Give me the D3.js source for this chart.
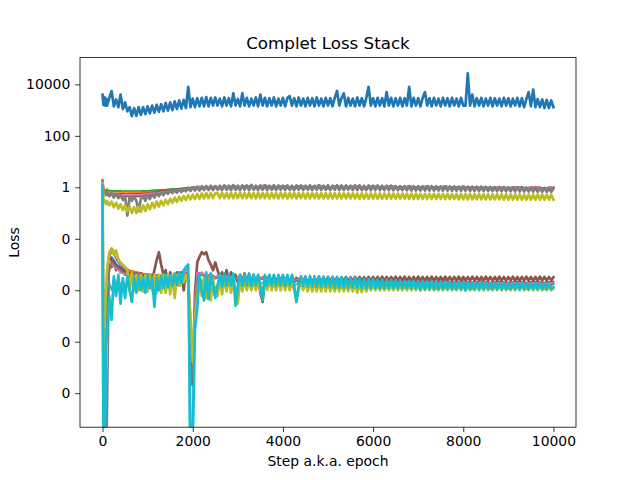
<!DOCTYPE html>
<html>
<head>
<meta charset="utf-8">
<script src="https://cdn.jsdelivr.net/npm/d3@7"></script>
<style>
  body { margin: 0; background: #fff; }
  text { font-family: "DejaVu Sans", sans-serif; }
</style>
</head>
<body>
<div class="loss_chart"></div>
<script>
// coarse step grid (terms that are mostly hidden under the others)
var steps = [0,20,40,60,80,100,150,200,250,300,
  350,400,450,500,600,700,800,900,1000,1100,
  1200,1300,1400,1500,1600,1700,1800,1850,1900,1930,
  1960,1990,2020,2050,2100,2150,2200,2300,2400,2500,
  2600,2700,2800,2900,3000,3200,3400,3600,3800,4000,
  4200,4400,4600,4800,5000,5200,5400,5600,5800,6000,
  6200,6400,6600,6800,7000,7200,7400,7600,7800,8000,
  8200,8400,8600,8800,9000,9200,9400,9600,9800,10000];

// fine step grid (terms that are visible on top)
var stepsFine = [0,20,40,60,80,
  100,150,200,250,300,350,400,450,500,550,
  600,650,700,750,800,850,900,950,1000,1050,
  1100,1150,1200,1250,1300,1350,1400,1450,1500,1550,
  1600,1650,1700,1750,1800,1850,1900,1950,2000,2050,
  2100,2150,2200,2250,2300,2350,2400,2450,2500,
  2550,2600,2650,2700,2750,2800,2850,2900,2950,3000,
  3050,3100,3150,3200,3250,3300,3350,3400,3450,3500,
  3550,3600,3650,3700,3750,3800,3850,3900,3950,4000,
  4050,4100,4150,4200,4250,4300,4350,4400,4450,4500,
  4550,4600,4650,4700,4750,4800,4850,4900,4950,5000,
  5050,5100,5150,5200,5250,5300,5350,5400,5450,5500,
  5550,5600,5650,5700,5750,5800,5850,5900,5950,6000,
  6050,6100,6150,6200,6250,6300,6350,6400,6450,6500,
  6550,6600,6650,6700,6750,6800,6850,6900,6950,7000,
  7050,7100,7150,7200,7250,7300,7350,7400,7450,7500,
  7550,7600,7650,7700,7750,7800,7850,7900,7950,8000,
  8050,8100,8150,8200,8250,8300,8350,8400,8450,8500,
  8550,8600,8650,8700,8750,8800,8850,8900,8950,9000,
  9050,9100,9150,9200,9250,9300,9350,9400,9450,9500,
  9550,9600,9650,9700,9750,9800,9850,9900,9950,10000];

// total loss (fine grid)
var lossTotal = [4000,1600,3200,1500,2800,
  1500,3000,5500,1400,2600,1300,4000,1100,2000,900,
  1300,580,1200,600,1300,650,1300,700,1400,750,
  1500,800,1600,850,1700,900,1900,950,2000,1000,
  2200,1100,2400,1150,2500,1200,8000,1300,2800,1300,
  2900,1400,3000,1400,3200,1400,3000,1500,3100,
  1500,2800,1400,3100,1500,2900,1400,4500,1500,2700,
  1400,4500,1500,3000,1400,2800,1500,3100,1400,4000,
  1500,3000,1400,2900,1500,3100,1400,2800,1500,3000,
  1400,3000,3500,1500,2900,1400,3100,1500,2800,1400,
  3000,1500,2900,1400,3100,1500,2800,1400,3000,1500,
  2900,1400,3000,5600,1500,2900,4500,1400,3000,1500,
  2800,1400,3100,1500,2900,1400,3000,8000,1500,2900,
  1400,3000,1500,2900,1400,5000,1500,3000,1400,2900,
  1500,3000,1400,2900,1500,8000,1400,3000,1500,2900,
  1400,3000,5000,1500,2900,1400,3000,1500,2800,1400,
  3000,1500,2900,1400,3000,1500,2800,1400,3000,1500,
  1500,27000,1500,4000,1400,2900,1500,3000,1400,2800,
  1500,3000,1400,2900,1500,2800,1400,3000,1500,2900,
  1400,2800,1500,3000,1400,2900,1300,2700,5000,1400,
  6300,1300,2700,1300,2600,1200,2500,1200,2400,1300];

// terms around 1 (coarse grid)
var midA = [2.0,1.0,0.85,0.75,0.7,0.9,0.68,0.72,0.66,0.7,
  0.64,0.68,0.62,0.67,0.63,0.66,0.62,0.68,0.65,0.7,
  0.7,0.78,0.75,0.82,0.8,0.9,0.85,0.95,0.9,1.0,
  0.9,1.02,0.92,1.05,0.95,1.1,0.95,1.1,0.96,1.12,
  0.96,1.15,0.97,1.18,0.98,1.15,0.98,1.22,0.97,1.15,
  0.96,1.16,0.97,1.2,0.96,1.15,0.97,1.18,0.96,1.15,
  0.95,1.18,0.95,1.12,0.94,1.12,0.93,1.12,0.93,1.1,
  0.92,1.08,0.9,1.06,0.9,1.05,0.88,1.02,0.87,1.0];
var midB = [1.6,0.9,0.8,0.78,0.76,0.75,0.75,0.74,0.74,0.73,
  0.73,0.73,0.72,0.72,0.72,0.72,0.72,0.73,0.74,0.76,
  0.78,0.8,0.82,0.85,0.88,0.9,0.93,0.95,0.97,0.98,
  0.98,1.0,1.0,1.02,1.02,1.05,1.04,1.08,1.05,1.08,
  1.05,1.1,1.05,1.12,1.06,1.1,1.06,1.15,1.06,1.1,
  1.05,1.1,1.06,1.12,1.05,1.1,1.06,1.12,1.05,1.1,
  1.04,1.1,1.04,1.08,1.03,1.08,1.02,1.07,1.02,1.06,
  1.0,1.05,0.99,1.04,0.98,1.02,0.97,1.0,0.96,0.99];
var midC = [1.4,0.7,0.62,0.6,0.58,0.6,0.57,0.58,0.56,0.58,
  0.55,0.57,0.55,0.56,0.55,0.56,0.56,0.58,0.6,0.63,
  0.66,0.7,0.73,0.77,0.8,0.84,0.87,0.9,0.92,0.95,
  0.94,0.98,0.96,1.0,0.97,1.05,0.98,1.08,0.99,1.1,
  0.99,1.12,1.0,1.15,1.0,1.12,1.0,1.18,1.0,1.12,
  0.98,1.12,0.99,1.16,0.98,1.12,0.99,1.15,0.98,1.12,
  0.97,1.15,0.97,1.1,0.96,1.1,0.96,1.1,0.95,1.08,
  0.95,1.08,0.94,1.06,0.93,1.05,0.93,1.06,0.92,1.04];
var midD = [1.7,0.75,0.6,0.55,0.52,0.58,0.5,0.55,0.48,0.54,
  0.47,0.52,0.46,0.5,0.46,0.5,0.47,0.52,0.5,0.56,
  0.56,0.62,0.62,0.7,0.7,0.78,0.76,0.86,0.82,0.92,
  0.86,0.98,0.88,1.0,0.9,1.05,0.9,1.1,0.92,1.12,
  0.92,1.15,0.93,1.2,0.93,1.15,0.93,1.22,0.93,1.15,
  0.92,1.18,0.93,1.22,0.92,1.16,0.93,1.2,0.92,1.15,
  0.91,1.16,0.9,1.12,0.9,1.12,0.89,1.1,0.89,1.1,
  0.88,1.08,0.87,1.06,0.86,1.05,0.86,1.04,0.85,1.02];
var midE = [1.5,0.7,0.55,0.52,0.5,0.55,0.47,0.52,0.45,0.5,
  0.44,0.48,0.42,0.47,0.42,0.46,0.43,0.48,0.46,0.52,
  0.52,0.6,0.6,0.68,0.68,0.76,0.74,0.84,0.8,0.9,
  0.82,0.95,0.84,0.98,0.86,1.02,0.86,1.05,0.87,1.06,
  0.87,1.1,0.88,1.12,0.88,1.1,0.88,1.15,0.88,1.1,
  0.87,1.12,0.88,1.15,0.87,1.1,0.88,1.14,0.87,1.1,
  0.86,1.12,0.86,1.08,0.85,1.08,0.85,1.07,0.84,1.06,
  0.84,1.05,0.83,1.03,0.82,1.02,0.82,1.01,0.81,1.0];
var midF = [1.3,0.65,0.58,0.56,0.54,0.56,0.53,0.55,0.52,0.54,
  0.51,0.53,0.5,0.52,0.5,0.52,0.51,0.54,0.55,0.6,
  0.6,0.66,0.66,0.74,0.74,0.8,0.8,0.88,0.85,0.93,
  0.88,0.98,0.9,1.02,0.92,1.06,0.92,1.1,0.94,1.12,
  0.94,1.15,0.95,1.18,0.95,1.15,0.95,1.2,0.95,1.14,
  0.94,1.16,0.95,1.2,0.94,1.15,0.95,1.18,0.94,1.14,
  0.93,1.16,0.93,1.12,0.92,1.12,0.92,1.1,0.91,1.1,
  0.9,1.08,0.9,1.08,0.89,1.06,0.89,1.08,0.88,1.05];
// terms around 1 (fine grid)
var midG = [1.8,0.8,0.55,0.7,0.5,
  0.65,0.45,0.6,0.4,0.55,0.38,0.5,0.32,0.45,0.08,
  0.42,0.3,0.45,0.3,0.12,0.35,0.45,0.3,0.5,0.35,
  0.55,0.4,0.6,0.45,0.65,0.5,0.7,0.55,0.75,0.6,
  0.8,0.62,0.85,0.65,0.9,0.7,0.95,0.72,1.0,0.75,
  1.05,0.75,1.1,0.78,1.1,0.78,1.15,0.78,1.1,
  0.8,1.15,0.78,1.2,0.8,1.15,0.78,1.22,0.8,1.15,
  0.78,1.2,0.8,1.18,0.78,1.25,0.8,1.15,0.78,1.2,
  0.8,1.2,0.78,1.15,0.8,1.22,0.78,1.18,0.8,1.15,
  0.78,1.2,0.8,1.15,0.78,1.2,0.8,1.18,0.78,1.15,
  0.8,1.2,0.78,1.15,0.8,1.2,0.78,1.15,0.8,1.2,
  0.78,1.15,0.8,1.2,0.78,1.18,0.78,1.2,0.8,1.15,
  0.78,1.18,0.78,1.2,0.78,1.15,0.78,1.18,0.77,1.15,
  0.77,1.18,0.77,1.15,0.77,1.15,0.76,1.15,0.76,1.12,
  0.76,1.12,0.76,1.1,0.76,1.12,0.75,1.1,0.75,1.12,
  0.75,1.1,0.75,1.1,0.75,1.1,0.74,1.1,0.74,1.08,
  0.74,1.08,0.74,1.08,0.73,1.08,0.73,1.06,0.73,1.06,
  0.73,1.06,0.72,1.05,0.72,1.05,0.72,1.04,0.71,1.04,
  0.71,1.03,0.71,1.02,0.7,1.02,0.7,1.02,0.7,1.0,
  0.7,1.0,0.69,1.0,0.69,0.99,0.69,0.98,0.68,0.98,
  0.68,0.97,0.67,0.96,0.67,0.95,0.66,0.94,0.66,0.9];
var midH = [1.5,0.35,0.25,0.3,0.22,
  0.3,0.2,0.28,0.17,0.25,0.15,0.22,0.13,0.2,0.12,
  0.18,0.1,0.17,0.1,0.18,0.11,0.2,0.12,0.22,0.14,
  0.25,0.16,0.28,0.18,0.3,0.2,0.33,0.22,0.36,0.25,
  0.4,0.27,0.43,0.3,0.46,0.32,0.5,0.34,0.52,0.35,
  0.55,0.36,0.58,0.37,0.6,0.38,0.6,0.38,0.6,
  0.6,0.38,0.62,0.38,0.6,0.38,0.62,0.38,0.6,0.38,
  0.62,0.38,0.6,0.38,0.62,0.38,0.6,0.37,0.62,0.38,
  0.6,0.38,0.62,0.37,0.6,0.38,0.6,0.37,0.62,0.38,
  0.6,0.37,0.6,0.38,0.62,0.37,0.6,0.38,0.6,0.37,
  0.6,0.37,0.6,0.38,0.6,0.37,0.6,0.37,0.6,0.37,
  0.6,0.37,0.59,0.37,0.6,0.37,0.59,0.37,0.6,0.37,
  0.59,0.37,0.58,0.36,0.59,0.36,0.58,0.36,0.58,0.36,
  0.58,0.36,0.58,0.36,0.57,0.36,0.58,0.36,0.57,0.36,
  0.57,0.36,0.57,0.36,0.57,0.35,0.57,0.35,0.57,0.35,
  0.56,0.35,0.56,0.35,0.56,0.35,0.56,0.35,0.56,0.35,
  0.56,0.35,0.56,0.35,0.55,0.35,0.55,0.34,0.55,0.34,
  0.55,0.34,0.55,0.34,0.55,0.34,0.55,0.34,0.54,0.34,
  0.54,0.34,0.54,0.34,0.54,0.34,0.54,0.33,0.54,0.33,
  0.54,0.33,0.54,0.33,0.53,0.33,0.53,0.33,0.53,0.33,
  0.53,0.33,0.53,0.33,0.53,0.33,0.52,0.33,0.52,0.33];

// small terms around 1e-4 (coarse grid)
var lowA = [1.3,1e-10,1e-10,1e-8,1e-6,1e-5,2e-4,1e-4,3e-4,1.5e-4,
  3e-4,1.5e-4,2.5e-4,1.5e-4,2.5e-4,1.4e-4,2.4e-4,1.4e-4,2.4e-4,1.4e-4,
  2.4e-4,1.4e-4,2.4e-4,1.5e-4,2.5e-4,1.6e-4,3e-4,4e-4,5e-4,1e-10,
  1e-10,1e-9,1e-7,5e-6,2e-4,1.2e-4,2.5e-4,1.2e-4,2.5e-4,1.2e-4,
  2.4e-4,1.3e-4,2.4e-4,1.3e-4,1.2e-4,2.3e-4,1.3e-4,2.3e-4,1.3e-4,2.2e-4,
  1.3e-4,2.2e-4,1.3e-4,2.1e-4,1.3e-4,2.1e-4,1.2e-4,2e-4,1.2e-4,2e-4,
  1.2e-4,1.9e-4,1.2e-4,1.9e-4,1.2e-4,1.9e-4,1.1e-4,1.8e-4,1.1e-4,1.8e-4,
  1.1e-4,1.8e-4,1.1e-4,1.8e-4,1.1e-4,1.7e-4,1.1e-4,1.7e-4,1.1e-4,1.7e-4];
var lowB = [1.4,1e-10,1e-8,1e-6,3e-5,3e-4,1.5e-3,2e-3,1.5e-3,1.1e-3,
  9e-4,8e-4,7e-4,6e-4,5.5e-4,5e-4,4.8e-4,4.5e-4,4.3e-4,4e-4,
  4e-4,3.8e-4,3.8e-4,3.6e-4,3.6e-4,3.5e-4,3.8e-4,4.5e-4,4e-4,5e-6,
  2e-7,5e-8,5e-7,2e-5,4e-4,4e-4,4.5e-4,3.5e-4,4e-4,3.2e-4,
  3.8e-4,3e-4,3.6e-4,2.9e-4,3e-4,3.3e-4,2.7e-4,3.2e-4,2.5e-4,3e-4,
  2.4e-4,2.8e-4,2.3e-4,2.7e-4,2.2e-4,2.6e-4,2.1e-4,2.5e-4,2e-4,2.4e-4,
  1.9e-4,2.3e-4,1.9e-4,2.2e-4,1.9e-4,2.2e-4,1.8e-4,2.1e-4,1.8e-4,2.1e-4,
  1.8e-4,2.1e-4,1.8e-4,2e-4,1.7e-4,2e-4,1.7e-4,2e-4,1.7e-4,1.9e-4];
var lowC = [1.5,1e-10,1e-8,2e-6,8e-5,8e-4,3e-3,4.5e-3,3.5e-3,2.5e-3,
  1.8e-3,1.2e-3,1e-3,8e-4,6e-4,5.5e-4,5e-4,4.5e-4,4.2e-4,4e-4,
  4e-4,3.8e-4,3.7e-4,3.6e-4,3.6e-4,3.5e-4,3.8e-4,4.5e-4,4e-4,3e-6,
  1e-7,3e-8,4e-7,1e-5,3.5e-4,3.8e-4,4.2e-4,3.3e-4,3.8e-4,3e-4,
  3.6e-4,2.9e-4,3.4e-4,2.8e-4,2.9e-4,3.2e-4,2.6e-4,3.1e-4,2.4e-4,2.9e-4,
  2.3e-4,2.7e-4,2.2e-4,2.6e-4,2.1e-4,2.5e-4,2e-4,2.4e-4,1.9e-4,2.3e-4,
  1.9e-4,2.2e-4,1.8e-4,2.2e-4,1.8e-4,2.1e-4,1.8e-4,2.1e-4,1.7e-4,2e-4,
  1.7e-4,2e-4,1.7e-4,2e-4,1.7e-4,1.9e-4,1.7e-4,1.9e-4,1.6e-4,1.9e-4];
var lowD = [1.3,1e-10,1e-9,5e-7,2e-5,2e-4,1.2e-3,1.5e-3,1.2e-3,9e-4,
  7e-4,6e-4,5.5e-4,5e-4,4.5e-4,4.2e-4,4e-4,3.8e-4,3.7e-4,3.5e-4,
  3.5e-4,3.4e-4,3.4e-4,3.3e-4,3.3e-4,3.3e-4,3.6e-4,4.2e-4,3.8e-4,2e-6,
  1e-7,2e-8,3e-7,1e-5,3.5e-4,3.6e-4,4e-4,3.2e-4,3.6e-4,2.9e-4,
  3.4e-4,2.8e-4,3.3e-4,2.7e-4,2.8e-4,3.1e-4,2.5e-4,3e-4,2.3e-4,2.8e-4,
  2.2e-4,2.6e-4,2.1e-4,2.5e-4,2e-4,2.4e-4,1.9e-4,2.3e-4,1.8e-4,2.2e-4,
  1.8e-4,2.1e-4,1.7e-4,2.1e-4,1.7e-4,2e-4,1.7e-4,2e-4,1.6e-4,1.9e-4,
  1.6e-4,1.9e-4,1.6e-4,1.9e-4,1.6e-4,1.8e-4,1.6e-4,1.8e-4,1.5e-4,1.8e-4];
var lowE = [1.3,1e-9,1e-7,5e-6,5e-5,4e-4,1.8e-3,1.5e-3,1.2e-3,9e-4,
  8e-4,7e-4,6e-4,5.5e-4,5e-4,4.5e-4,4.5e-4,4e-4,4e-4,3.8e-4,
  3.8e-4,3.6e-4,3.6e-4,3.5e-4,3.6e-4,3.5e-4,4e-4,5e-4,4.5e-4,1e-5,
  5e-7,1e-7,1e-6,3e-5,5e-4,4.5e-4,5e-4,3.5e-4,4.2e-4,3.2e-4,
  4e-4,3e-4,3.8e-4,3e-4,3.2e-4,3.5e-4,2.8e-4,3.4e-4,2.6e-4,3.2e-4,
  2.5e-4,3e-4,2.4e-4,2.8e-4,2.3e-4,2.7e-4,2.2e-4,2.6e-4,2.1e-4,2.5e-4,
  2.1e-4,2.4e-4,2e-4,2.4e-4,2e-4,2.3e-4,2e-4,2.3e-4,2e-4,2.3e-4,
  2e-4,2.3e-4,2e-4,2.2e-4,2e-4,2.2e-4,2e-4,2.2e-4,2e-4,2.2e-4];
var lowF = [1.4,1e-10,1e-8,1e-6,4e-5,5e-4,2e-3,3e-3,2.5e-3,1.6e-3,
  1.2e-3,9e-4,8e-4,7e-4,5.5e-4,5e-4,4.6e-4,4.3e-4,4e-4,3.8e-4,
  3.8e-4,3.6e-4,3.6e-4,3.5e-4,3.5e-4,3.4e-4,3.7e-4,4.4e-4,4e-4,4e-6,
  2e-7,4e-8,5e-7,1.5e-5,3.8e-4,3.9e-4,4.3e-4,3.4e-4,3.9e-4,3.1e-4,
  3.7e-4,2.9e-4,3.5e-4,2.8e-4,2.9e-4,3.2e-4,2.6e-4,3.1e-4,2.4e-4,2.9e-4,
  2.3e-4,2.7e-4,2.2e-4,2.6e-4,2.1e-4,2.5e-4,2e-4,2.4e-4,1.9e-4,2.3e-4,
  1.9e-4,2.2e-4,1.8e-4,2.2e-4,1.8e-4,2.1e-4,1.8e-4,2.1e-4,1.7e-4,2e-4,
  1.7e-4,2e-4,1.7e-4,2e-4,1.7e-4,1.9e-4,1.7e-4,1.9e-4,1.6e-4,1.9e-4];
// brown term (fine grid)
var lowG = [1.1,1e-9,1e-7,3e-5,1e-6,
  2e-4,1e-3,8e-4,1.2e-3,6e-4,8e-4,5e-4,6e-4,4e-4,5e-4,
  3.5e-4,5e-4,3e-4,4.5e-4,2.5e-4,4.5e-4,2.5e-4,4e-4,2.5e-4,4e-4,
  2.5e-4,6e-4,1.5e-3,3e-3,1e-3,4e-4,6e-4,1.5e-4,5e-4,3e-4,
  1e-4,5e-4,1.5e-4,5e-4,1e-4,6e-4,2e-4,5e-6,2.5e-8,8e-5,
  1.2e-3,2e-3,3e-3,2.5e-3,3e-3,1.5e-3,1e-3,6e-4,1.2e-3,
  6e-4,3e-4,5e-4,2.5e-4,6e-4,2.5e-4,5e-4,2e-4,4e-4,2e-4,
  4e-4,2e-4,4.5e-4,2e-4,4e-4,2e-4,4e-4,1.5e-4,3.5e-4,8e-5,
  3.5e-5,3e-4,2e-4,3.5e-4,2e-4,3.5e-4,2e-4,3e-4,2e-4,3.5e-4,
  2e-4,3e-4,2e-4,3.5e-4,2e-4,3e-4,2e-4,3e-4,2e-4,3e-4,
  2e-4,3e-4,2e-4,3e-4,2e-4,3.2e-4,2e-4,3e-4,2.2e-4,3.2e-4,
  2.2e-4,3.2e-4,2.2e-4,3.2e-4,2.2e-4,3.2e-4,2.2e-4,3.3e-4,2.2e-4,3.2e-4,
  2.2e-4,3.3e-4,2.3e-4,3.3e-4,2.3e-4,3.2e-4,2.3e-4,3.3e-4,2.3e-4,3.3e-4,
  2.3e-4,3.3e-4,2.3e-4,3.4e-4,2.3e-4,3.3e-4,2.3e-4,3.3e-4,2.4e-4,3.4e-4,
  2.3e-4,3.3e-4,2.4e-4,3.4e-4,2.3e-4,3.3e-4,2.4e-4,3.3e-4,2.3e-4,3.4e-4,
  2.4e-4,3.3e-4,2.3e-4,3.3e-4,2.4e-4,3.4e-4,2.4e-4,3.3e-4,2.4e-4,3.3e-4,
  2.4e-4,3.4e-4,2.4e-4,3.3e-4,2.4e-4,3.3e-4,2.4e-4,3.4e-4,2.4e-4,3.3e-4,
  2.4e-4,3.3e-4,2.4e-4,3.4e-4,2.4e-4,3.3e-4,2.4e-4,3.3e-4,2.4e-4,3.4e-4,
  2.4e-4,3.3e-4,2.4e-4,3.3e-4,2.4e-4,3.4e-4,2.4e-4,3.3e-4,2.4e-4,3.3e-4,
  2.4e-4,3.4e-4,2.4e-4,3.3e-4,2.4e-4,3.3e-4,2.4e-4,3.4e-4,2.4e-4,3.3e-4,
  2.4e-4,3.3e-4,2.4e-4,3.4e-4,2.4e-4,3.3e-4,2.4e-4,3.3e-4,2.5e-4,3.2e-4];
// coarse grid
var lowH = [1.2,1e-8,1e-6,1e-5,1e-4,5e-4,1.5e-3,1e-3,8e-4,7e-4,
  6e-4,5e-4,4.5e-4,4e-4,4e-4,3.5e-4,3.8e-4,3.2e-4,3.5e-4,3e-4,
  3.5e-4,3e-4,3.5e-4,3e-4,3.5e-4,3e-4,4e-4,6e-4,5e-4,2e-5,
  1e-6,3e-7,2e-6,5e-5,5e-4,4e-4,5e-4,3e-4,4e-4,3e-4,
  4e-4,3e-4,3.8e-4,2.8e-4,3e-4,3.5e-4,2.6e-4,3.2e-4,2.4e-4,3e-4,
  2.3e-4,2.8e-4,2.2e-4,2.6e-4,2.1e-4,2.5e-4,2e-4,2.4e-4,1.9e-4,2.3e-4,
  1.9e-4,2.2e-4,1.8e-4,2.2e-4,1.8e-4,2.1e-4,1.8e-4,2.1e-4,1.8e-4,2.1e-4,
  1.8e-4,2.1e-4,1.8e-4,2e-4,1.8e-4,2e-4,1.8e-4,2e-4,1.8e-4,2e-4];
var lowI = [1.2,1e-5,1e-4,1e-6,1e-10,1e-10,5e-4,1.2e-3,1e-3,8e-4,
  7e-4,6e-4,5e-4,4.5e-4,4e-4,3.8e-4,3.6e-4,3.4e-4,3.3e-4,3.2e-4,
  3.2e-4,3.1e-4,3.1e-4,3e-4,3e-4,3e-4,3.3e-4,4e-4,3.5e-4,1e-6,
  2e-8,1e-7,1e-6,2e-5,3.5e-4,3.5e-4,4e-4,3.1e-4,3.5e-4,2.8e-4,
  3.3e-4,2.7e-4,3.2e-4,2.6e-4,2.7e-4,3e-4,2.4e-4,2.9e-4,2.2e-4,2.7e-4,
  2.1e-4,2.5e-4,2e-4,2.4e-4,1.9e-4,2.3e-4,1.8e-4,2.2e-4,1.8e-4,2.1e-4,
  1.7e-4,2e-4,1.7e-4,2e-4,1.7e-4,1.9e-4,1.6e-4,1.9e-4,1.6e-4,1.9e-4,
  1.6e-4,1.8e-4,1.5e-4,1.8e-4,1.5e-4,1.8e-4,1.5e-4,1.8e-4,1.5e-4,1.7e-4];
// olive and cyan terms (fine grid)
var lowJ = [1.3,1e-7,1e-6,2e-5,1e-4,
  6e-4,3e-3,4e-3,2.5e-3,3.5e-3,1.5e-3,1.2e-3,1e-3,8e-4,6e-4,
  1e-4,5e-4,1e-4,4e-4,1e-4,4e-4,9e-5,4e-4,9e-5,4e-4,
  1e-4,4e-4,8e-5,4e-4,8e-5,4e-4,8e-5,4e-4,7e-5,4e-4,
  5e-5,4e-4,1.5e-4,4e-4,2e-4,4e-4,2e-4,1e-5,1.6e-7,1e-5,
  5e-5,3e-4,6e-5,3e-4,5e-5,3e-4,4e-5,3e-4,6e-5,
  6e-5,3e-4,7e-5,3e-4,9e-5,3e-4,8e-5,2.8e-4,9e-5,3e-5,
  2.8e-4,9e-5,2.5e-4,1e-4,2.5e-4,1e-4,2.5e-4,1e-4,2.5e-4,1e-4,
  5e-5,2.5e-4,1e-4,2.5e-4,1e-4,2.5e-4,1e-4,2.5e-4,1e-4,2.5e-4,
  1e-4,2.5e-4,1e-4,2.5e-4,1e-4,4e-5,1e-4,2.5e-4,1e-4,2.2e-4,
  9e-5,2e-4,9e-5,2e-4,9e-5,2e-4,9e-5,2e-4,9e-5,2e-4,
  9e-5,1.8e-4,9e-5,1.8e-4,9e-5,1.8e-4,9e-5,1.8e-4,9e-5,1.8e-4,
  9e-5,1.8e-4,8e-5,1.7e-4,8.5e-5,1.7e-4,9e-5,1.7e-4,1e-4,1.6e-4,
  1e-4,1.6e-4,1e-4,1.6e-4,1e-4,1.6e-4,1e-4,1.5e-4,1e-4,1.5e-4,
  1e-4,1.6e-4,1e-4,1.5e-4,1e-4,1.6e-4,1e-4,1.5e-4,1e-4,1.5e-4,
  1e-4,1.5e-4,1e-4,1.6e-4,1e-4,1.5e-4,1e-4,1.5e-4,1e-4,1.5e-4,
  1e-4,1.5e-4,1e-4,1.5e-4,1e-4,1.5e-4,1e-4,1.6e-4,1e-4,1.5e-4,
  1e-4,1.5e-4,1e-4,1.5e-4,1e-4,1.5e-4,1e-4,1.5e-4,1e-4,1.5e-4,
  1e-4,1.6e-4,1e-4,1.5e-4,1e-4,1.5e-4,1e-4,1.5e-4,1e-4,1.5e-4,
  1e-4,1.5e-4,1e-4,1.5e-4,1e-4,1.6e-4,1e-4,1.5e-4,1e-4,1.5e-4,
  1e-4,1.5e-4,1e-4,1.5e-4,1e-4,1.5e-4,1e-4,1.5e-4,1e-4,1.2e-4];
var lowK = [1.2,1e-10,1e-10,1e-9,3e-6,
  2e-6,6e-5,7e-6,3.5e-4,6e-5,4e-4,3e-5,3e-4,5e-5,3.5e-4,
  1e-4,3.5e-5,3e-4,8e-5,3.5e-4,1e-4,3e-4,8e-5,3.5e-4,1.2e-4,
  3e-4,2.3e-5,3e-4,1e-4,3.5e-4,1.2e-4,4e-4,1.3e-4,4e-4,1.5e-4,
  4.5e-4,1.6e-4,5e-4,2e-4,6e-4,8e-4,1e-3,1e-10,1e-10,3e-6,
  2e-5,4e-4,1e-4,4e-5,5e-4,4.5e-5,4.5e-4,1.5e-4,5e-5,
  1.5e-4,4e-4,1.4e-4,4.5e-4,1.5e-4,4e-4,1.5e-4,4.5e-4,2.5e-5,1.5e-4,
  4e-4,1.5e-4,4e-4,1.6e-4,4.5e-4,1.5e-4,4e-4,1.6e-4,4e-4,1.5e-4,
  4e-5,4e-4,1.5e-4,4e-4,1.6e-4,4e-4,1.5e-4,4e-4,1.6e-4,4e-4,
  1.5e-4,4e-4,1.6e-4,4e-4,1.5e-4,3.5e-5,1.5e-4,3.5e-4,1.5e-4,3.5e-4,
  1.4e-4,3.6e-4,1.4e-4,3.5e-4,1.4e-4,3.5e-4,1.4e-4,3.4e-4,1.4e-4,3.4e-4,
  1.4e-4,3.3e-4,1.3e-4,3.3e-4,1.3e-4,3.2e-4,1.3e-4,3.2e-4,1.3e-4,3e-4,
  1.3e-4,3e-4,1.3e-4,2.8e-4,1.2e-4,2.8e-4,1.2e-4,2.7e-4,1.2e-4,2.7e-4,
  1.2e-4,2.6e-4,1.2e-4,2.6e-4,1.2e-4,2.5e-4,1.2e-4,2.5e-4,1.2e-4,2.4e-4,
  1.2e-4,2.4e-4,1.2e-4,2.3e-4,1.2e-4,2.3e-4,1.2e-4,2.3e-4,1.2e-4,2.3e-4,
  1e-4,2.3e-4,1.1e-4,2.2e-4,1.1e-4,2.2e-4,1.1e-4,2.2e-4,1.1e-4,2.2e-4,
  1.1e-4,2.1e-4,1.1e-4,2.1e-4,1.1e-4,2.1e-4,1.1e-4,2.1e-4,1.1e-4,2e-4,
  1e-4,2e-4,1.1e-4,2e-4,1.1e-4,2e-4,1.1e-4,2e-4,1.1e-4,2e-4,
  1.1e-4,1.9e-4,1.1e-4,1.9e-4,1.1e-4,1.9e-4,1.1e-4,1.9e-4,1.1e-4,1.9e-4,
  1.1e-4,1.9e-4,1.1e-4,1.9e-4,1.1e-4,1.9e-4,1.1e-4,1.9e-4,1.1e-4,1.9e-4,
  1.1e-4,1.9e-4,1.1e-4,1.9e-4,1.1e-4,1.9e-4,1.1e-4,1.9e-4,1.1e-4,1.3e-4];

var xTicks = [0, 2000, 4000, 6000, 8000, 10000];
var yTicks = [1e4, 1e2, 1, 1e-2, 1e-4, 1e-6, 1e-8];
var yTickLabels = ["10000", "100", "1", "0", "0", "0", "0"];

// drawing order = order of the terms in the original plot
var allLoss = [
  {x: stepsFine, v: lossTotal},
  {x: steps, v: midA}, {x: steps, v: midB}, {x: steps, v: midC}, {x: steps, v: midD},
  {x: steps, v: midE}, {x: steps, v: midF}, {x: stepsFine, v: midG}, {x: stepsFine, v: midH},
  {x: steps, v: lowA}, {x: steps, v: lowB}, {x: steps, v: lowC}, {x: steps, v: lowD},
  {x: steps, v: lowE}, {x: steps, v: lowF}, {x: stepsFine, v: lowG}, {x: steps, v: lowH},
  {x: steps, v: lowI}, {x: stepsFine, v: lowJ}, {x: stepsFine, v: lowK}];
var colors = d3.schemeCategory10;

var margin = {top: 57.6, right: 64, bottom: 52.8, left: 80},
    width = 640 - margin.left - margin.right,
    height = 480 - margin.top - margin.bottom;

var x = d3.scaleLinear().domain([-500, 10500]).range([0, width]);
var y = d3.scaleLog().domain([Math.pow(10, -9.32), Math.pow(10, 5.04)]).range([height, 0]);

var svg = d3.select(".loss_chart")
    .append("svg")
    .attr("width", 640)
    .attr("height", 480)
    .style("display", "block");

svg.append("rect").attr("width", 640).attr("height", 480).attr("fill", "#fff");

var g = svg.append("g")
    .attr("transform", "translate(" + margin.left + "," + margin.top + ")");

g.append("clipPath").attr("id", "plotclip")
    .append("rect").attr("width", width).attr("height", height);

var plot = g.append("g").attr("clip-path", "url(#plotclip)");
allLoss.forEach(function(s, k) {
    var line = d3.line()
        .x(function(d, i) { return x(s.x[i]); })
        .y(function(d) { return y(d); });
    // dense noisy terms get a heavier stroke so their band reads solid
    plot.append("path")
        .datum(s.v)
        .attr("fill", "none")
        .attr("stroke", colors[k % 10])
        .attr("stroke-width", s.x === stepsFine ? 2.7 : 1.6)
        .attr("stroke-linejoin", "round")
        .attr("stroke-linecap", "square")
        .attr("d", line);
});

var xAxis = d3.axisBottom(x).tickValues(xTicks).tickSize(4.86).tickPadding(4.4).tickSizeOuter(0)
    .tickFormat(d3.format("d"));
var yAxis = d3.axisLeft(y).tickValues(yTicks).tickSize(4.86).tickPadding(4.86).tickSizeOuter(0)
    .tickFormat(function(d, i) { return yTickLabels[i]; });

var gx = g.append("g")
    .attr("transform", "translate(0," + height + ")")
    .call(xAxis);
var gy = g.append("g").call(yAxis);

[gx, gy].forEach(function(a) {
    a.attr("font-family", "DejaVu Sans").attr("font-size", 13.9);
    a.select(".domain").remove();
    a.selectAll(".tick line").attr("stroke", "#000").attr("stroke-width", 0.8);
    a.selectAll(".tick text").attr("fill", "#000");
});

g.append("rect")
    .attr("width", width)
    .attr("height", height)
    .attr("fill", "none")
    .attr("stroke", "#000")
    .attr("stroke-width", 0.8);

svg.append("text")
    .attr("x", margin.left + width / 2)
    .attr("y", 49)
    .attr("text-anchor", "middle")
    .attr("font-size", 16.7)
    .text("Complet Loss Stack");

svg.append("text")
    .attr("x", margin.left + width / 2)
    .attr("y", 466)
    .attr("text-anchor", "middle")
    .attr("font-size", 13.9)
    .text("Step a.k.a. epoch");

svg.append("text")
    .attr("transform", "translate(18.5," + (margin.top + height / 2) + ") rotate(-90)")
    .attr("text-anchor", "middle")
    .attr("font-size", 13.9)
    .text("Loss");
</script>
</body>
</html>
